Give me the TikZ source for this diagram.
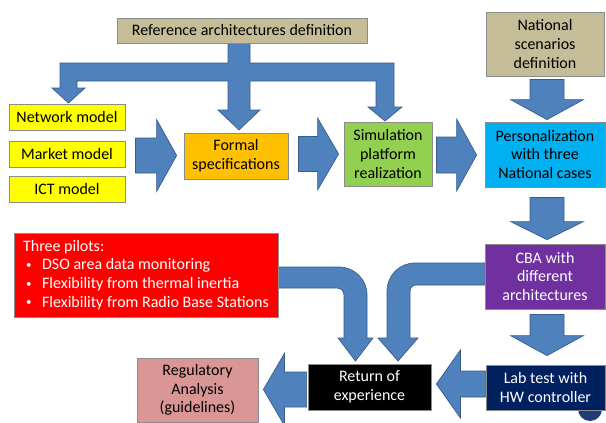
\documentclass[tikz,border=0pt]{standalone}
\usepackage{fontspec}
\setmainfont{Carlito}
\usetikzlibrary{calc,backgrounds}
\definecolor{tanc}{HTML}{C4BD97}
\definecolor{yel}{HTML}{FFFF00}
\definecolor{orng}{HTML}{FFC000}
\definecolor{grn}{HTML}{92D050}
\definecolor{cyn}{HTML}{00B0F0}
\definecolor{purp}{HTML}{7030A0}
\definecolor{redc}{HTML}{FF0000}
\definecolor{pinkc}{HTML}{DA9694}
\definecolor{navyc}{HTML}{002060}
\definecolor{dotc}{HTML}{1F3C78}
\definecolor{arrfill}{HTML}{4F81BD}
\definecolor{arrline}{HTML}{385D8A}
\definecolor{boxline}{HTML}{8C8C8C}
\tikzset{
  box/.style={draw=boxline, line width=0.8pt, align=center, inner sep=0pt,
    font=\fontsize{16}{18.7}\selectfont},
  blockarrow/.style={fill=arrfill, draw=arrline, line width=0.7pt, line join=miter},
}
\newcommand\pilotitem{\hspace*{3pt}\makebox[16pt][l]{\raisebox{1.5pt}{\fontsize{11}{11}\selectfont\textbullet}}}
% straight block arrow: #1 start, #2 tip, #3 body half width, #4 head half width, #5 head length
\newcommand\barrow[5]{%
  \coordinate (ba-h) at ($(#2)!#5!(#1)$);
  \filldraw[blockarrow] ($(#1)!#3!90:(#2)$) -- ($(ba-h)!#3!-90:(#1)$)
    -- ($(ba-h)!#4!-90:(#1)$) -- (#2) -- ($(ba-h)!#4!90:(#1)$)
    -- ($(ba-h)!#3!90:(#1)$) -- ($(#1)!#3!-90:(#2)$) -- cycle;
}
\begin{document}
\begin{tikzpicture}[x=1pt,y=-1pt]
\useasboundingbox (0,0) rectangle (606,423);

% boxes
\node[box, fill=tanc, minimum width=250pt, minimum height=25pt] (ref) at (242,30.5) {Reference architectures definition};
\node[box, fill=tanc, minimum width=118pt, minimum height=64pt] (nat) at (545,44) {National\\scenarios\\definition};
\node[box, fill=yel, minimum width=116pt, minimum height=26pt] (net) at (67,117) {Network model};
\node[box, fill=yel, minimum width=116pt, minimum height=26pt] (mkt) at (67,154) {Market model};
\node[box, fill=yel, minimum width=116pt, minimum height=26pt] (ict) at (67,189) {ICT model};
\node[box, fill=orng, minimum width=104pt, minimum height=46pt] (formal) at (236,156) {Formal\\specifications};
\node[box, fill=grn, minimum width=88pt, minimum height=64pt] (sim) at (388,154) {Simulation\\platform\\realization};
\node[box, fill=cyn, minimum width=120pt, minimum height=65pt] (pers) at (545,154.5) {Personalization\\with three\\National cases};
\node[box, fill=purp, text=white, minimum width=120pt, minimum height=65pt] (cba) at (545,276.5) {CBA with\\different\\architectures};
\node[box, fill=navyc, text=white, minimum width=119pt, minimum height=45pt] (lab) at (545.5,387.5) {Lab test with\\HW controller};
\node[box, fill=black, text=white, minimum width=123pt, minimum height=46pt] (ret) at (369.5,387) {Return of\\experience};
\node[box, fill=pinkc, minimum width=121pt, minimum height=64pt] (reg) at (197.5,390) {Regulatory\\Analysis\\(guidelines)};
\node[box, fill=redc, text=white, minimum width=264pt, minimum height=84pt,
      align=left] (pilots) at (146,275)
  {Three pilots:\\
   \pilotitem DSO area data monitoring\\
   \pilotitem Flexibility from thermal inertia\\
   \pilotitem Flexibility from Radio Base Stations};

\begin{scope}[on background layer]
  \fill[white] (0,0) rectangle (606,423);
  \fill[dotc] (590,409) circle (12pt);

  % branched arrow from the reference architectures
  \filldraw[blockarrow]
    (228,43) -- (250,43) -- (250,63) -- (394,63) -- (394,107) -- (402,107)
    -- (385,121) -- (368,107) -- (376,107) -- (376,81) -- (250,81) -- (250,110)
    -- (260,110) -- (239,130) -- (218,110) -- (228,110) -- (228,81) -- (77,81)
    -- (77,88) -- (85,88) -- (68.5,103) -- (52,88) -- (60,88) -- (60,63)
    -- (228,63) -- cycle;

  % straight arrows
  \coordinate (a1s) at ($(mkt.east)+(10,1.5)$);
  \coordinate (a1e) at ($(formal.west)+(-7,-0.5)$);
  \barrow{a1s}{a1e}{17.5pt}{36pt}{20pt}
  \coordinate (a2s) at ($(formal.east)+(10,-2)$);
  \coordinate (a2e) at ($(sim.west)+(-5,0)$);
  \barrow{a2s}{a2e}{17.5pt}{36pt}{21pt}
  \coordinate (a3s) at ($(sim.east)+(4,1)$);
  \coordinate (a3e) at ($(pers.west)+(-8,0.5)$);
  \barrow{a3s}{a3e}{18pt}{36pt}{20pt}
  \coordinate (a4s) at ($(nat.south)+(2,3)$);
  \coordinate (a4e) at ($(pers.north)+(2,-2)$);
  \barrow{a4s}{a4e}{17pt}{36.5pt}{20pt}
  \coordinate (a5s) at ($(pers.south)+(2,10)$);
  \coordinate (a5e) at ($(cba.north)+(2,-4)$);
  \barrow{a5s}{a5e}{17pt}{36.5pt}{18pt}
  \coordinate (a6s) at ($(cba.south)+(2,5)$);
  \coordinate (a6e) at ($(lab.north)+(1.5,-9)$);
  \barrow{a6s}{a6e}{17pt}{36.5pt}{20pt}
  \coordinate (a7s) at ($(lab.west)+(0,-3.5)$);
  \coordinate (a7e) at ($(ret.east)+(5,-3)$);
  \barrow{a7s}{a7e}{13pt}{34pt}{24pt}
  \coordinate (a8s) at ($(ret.west)+(-1,2.5)$);
  \coordinate (a8e) at ($(reg.east)+(5,-0.5)$);
  \barrow{a8s}{a8e}{17.5pt}{36pt}{21pt}

  % curved arrow from the pilots to the return of experience
  \filldraw[blockarrow]
    (pilots.east |- 0,267) -- (339,267) .. controls (354.5,267) and (367,279.5) .. (367,295)
    -- (367,338) -- (373,338) -- (355.5,361) -- (338,338) -- (344,338) -- (344,295)
    .. controls (344,291.1) and (340.9,288) .. (337,288) -- (pilots.east |- 0,288) -- cycle;

  % curved arrow from the CBA to the return of experience
  \filldraw[blockarrow]
    (cba.west |- 0,263) -- (415,263) .. controls (399.5,263) and (387,275.5) .. (387,291)
    -- (387,338) -- (378,338) -- (398,361) -- (418,338) -- (410,338) -- (410,291)
    .. controls (410,287.7) and (412.7,285) .. (416,285) -- (cba.west |- 0,285) -- cycle;
\end{scope}
\end{tikzpicture}
\end{document}
